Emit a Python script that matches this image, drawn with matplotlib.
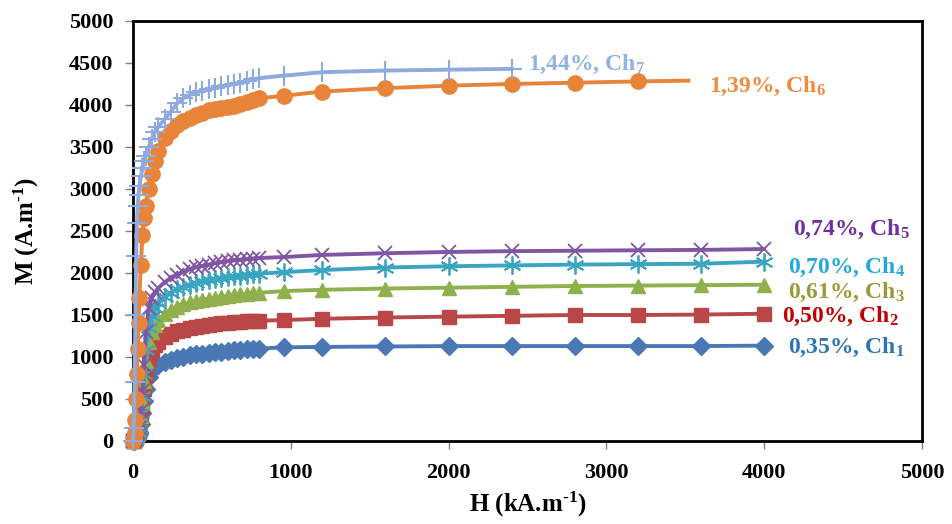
import matplotlib
matplotlib.use('Agg')
import matplotlib.pyplot as plt

plt.rcParams['font.family'] = ['Liberation Serif', 'DejaVu Serif']
plt.rcParams['font.weight'] = 'bold'
plt.rcParams['mathtext.fontset'] = 'custom'
plt.rcParams['mathtext.rm'] = 'Liberation Serif:bold'
plt.rcParams['mathtext.it'] = 'Liberation Serif:bold'
plt.rcParams['mathtext.bf'] = 'Liberation Serif:bold'

# field values (kA/m)
H = [0, 5, 10, 15, 20, 25, 30, 35, 40, 50, 60, 70, 80,
     100, 120, 140, 160,
     200, 240, 280, 320, 360, 400, 440, 480, 520, 560, 600, 640, 680, 720, 760, 800,
     960, 1200, 1600, 2000, 2400, 2800, 3200, 3600, 4000]

# magnetisation (A/m) for each sample
m_ch1 = [0, 5, 10, 20, 30, 45, 60, 80, 110, 200, 330, 480, 620,
         760, 840, 880, 910,
         945, 970, 990, 1005, 1020, 1030, 1040, 1050, 1058, 1065, 1072, 1078, 1084, 1090, 1095, 1100,
         1115, 1120, 1125, 1130, 1130, 1130, 1130, 1130, 1135]
m_ch2 = [0, 5, 12, 25, 40, 60, 80, 110, 150, 260, 420, 620, 800,
         980, 1080, 1140, 1180,
         1240, 1275, 1305, 1325, 1342, 1357, 1370, 1382, 1392, 1400, 1407, 1414, 1420, 1425, 1428, 1432,
         1440, 1455, 1470, 1480, 1490, 1500, 1500, 1505, 1515]
m_ch3 = [0, 6, 14, 28, 45, 65, 90, 125, 170, 300, 480, 720, 950,
         1180, 1300, 1380, 1440,
         1515, 1565, 1600, 1628, 1650, 1665, 1680, 1695, 1707, 1717, 1727, 1736, 1744, 1752, 1758, 1765,
         1785, 1800, 1815, 1825, 1835, 1845, 1850, 1855, 1860]
m_ch4 = [0, 6, 15, 30, 50, 70, 100, 140, 190, 330, 540, 800, 1080,
         1350, 1490, 1580, 1640,
         1715, 1765, 1805, 1835, 1860, 1882, 1900, 1915, 1930, 1942, 1952, 1962, 1970, 1978, 1985, 1992,
         2010, 2035, 2065, 2080, 2090, 2100, 2105, 2110, 2135]
m_ch5 = [0, 7, 16, 32, 55, 80, 110, 150, 210, 360, 590, 900, 1300,
         1580, 1700, 1770, 1820,
         1890, 1940, 1980, 2015, 2045, 2068, 2085, 2100, 2115, 2128, 2140, 2150, 2158, 2165, 2172, 2178,
         2190, 2215, 2235, 2250, 2260, 2265, 2270, 2275, 2285]

H_ch6 = H[:40] + [3520]
m_ch6 = [0, 30, 100, 250, 500, 800, 1100, 1400, 1700, 2100, 2450, 2650, 2800,
         3000, 3180, 3330, 3450,
         3610, 3690, 3760, 3810, 3845, 3875, 3905, 3935, 3950, 3965, 3978, 3990, 4010, 4035, 4060, 4080,
         4110, 4160, 4200, 4230, 4250, 4265, 4280, 4290]
H_ch7 = H[:38]
m_ch7 = [0, 150, 700, 1500, 2200, 2600, 2800, 2930, 3030, 3150, 3250, 3330, 3390,
         3500, 3600, 3680, 3740,
         3830, 3920, 4020, 4080, 4120, 4150, 4170, 4185, 4200, 4220, 4235, 4250, 4265, 4285, 4305, 4320,
         4350, 4390, 4410, 4420, 4430]

labels = ['0,35%, Ch$_1$', '0,50%, Ch$_2$', '0,61%, Ch$_3$', '0,70%, Ch$_4$',
          '0,74%, Ch$_5$', '1,39%, Ch$_6$', '1,44%, Ch$_7$']
label_pos = [(4150, 1110), (4110, 1480), (4150, 1770), (4150, 2070), (4180, 2520),
             (3650, 4220), (2500, 4480)]
label_colors = ['#2E75B6', '#C00000', '#9A9A3A', '#20A8E0', '#7030A0', '#F08A3C', '#8EB4E3']

fig = plt.figure(figsize=(9.52, 5.24), dpi=100)
ax = fig.add_axes([0.1397, 0.1584, 0.8288, 0.8016])

ax.plot(H, m_ch1, color='#4A78B5', lw=2.8, marker='D', ms=9, clip_on=False, zorder=3)
ax.plot(H, m_ch2, color='#B94747', lw=2.8, marker='s', ms=10, clip_on=False, zorder=3)
ax.plot(H, m_ch3, color='#8FB04C', lw=2.8, marker='^', ms=10, clip_on=False, zorder=3)
ax.plot(H, m_ch4, color='#3AA5C0', lw=2.8, marker=(6, 2, 0), ms=13, mew=1.3,
        clip_on=False, zorder=3)
ax.plot(H, m_ch5, color='#7F56A3', lw=2.8, marker='x', ms=10, mew=1.3, clip_on=False, zorder=3)
ax.plot(H_ch6, m_ch6, color='#E8833A', lw=2.8, marker='o', ms=11, markevery=list(range(40)),
        clip_on=False, zorder=4)
ax.plot(H_ch7, m_ch7, color='#8FAADC', lw=2.8, marker='+', ms=14, mew=1.5,
        clip_on=False, zorder=5)

for txt, (x, y), c in zip(labels, label_pos, label_colors):
    ax.text(x, y, txt, color=c, fontsize=17, fontweight='bold', va='center', ha='left')

ax.set_xlim(0, 5000)
ax.set_ylim(0, 5000)
ax.set_xticks(range(0, 5001, 1000))
ax.set_yticks(range(0, 5001, 500))
ax.tick_params(labelsize=16, direction='out', length=6, color='#808080', width=1)
ax.tick_params(axis='x', pad=10)
ax.tick_params(axis='y', pad=8)
for lab in ax.get_xticklabels() + ax.get_yticklabels():
    lab.set_fontweight('bold')
for s in ax.spines.values():
    s.set_linewidth(2)
    s.set_color('black')

ax.set_xlabel(r'H (kA.m$^{\text{-1}}$)', fontsize=18, fontweight='bold', labelpad=5)
ax.set_ylabel(r'M (A.m$^{\text{-1}}$)', fontsize=18, fontweight='bold', labelpad=20)

fig.savefig('out.png', dpi=100)
